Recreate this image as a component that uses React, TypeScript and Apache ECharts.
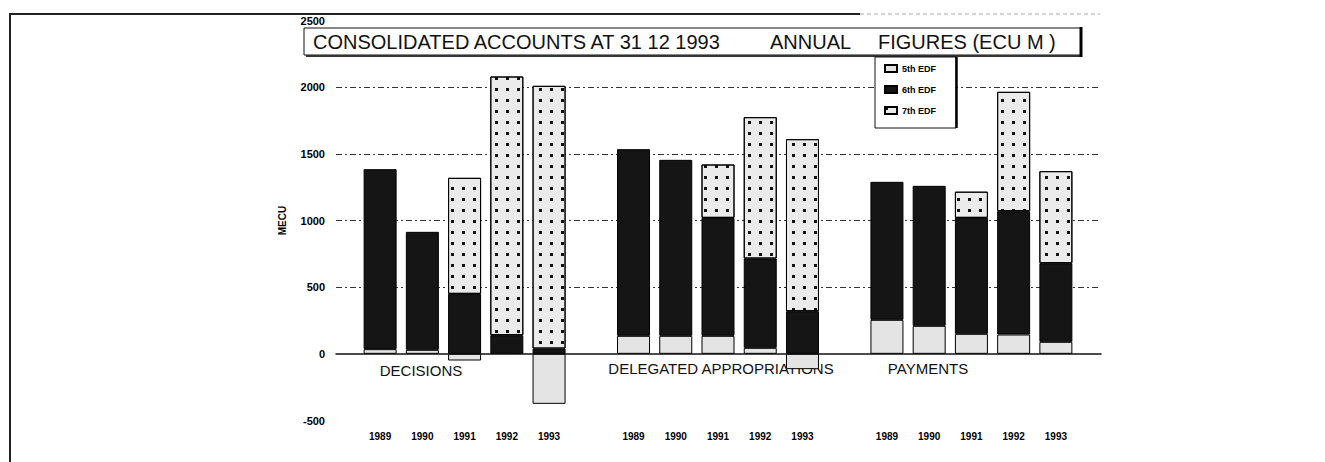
import React, { useEffect, useRef } from 'react';
import * as echarts from 'echarts';

const groups = ['DECISIONS', 'DELEGATED APPROPRIATIONS', 'PAYMENTS'];
const years = ['1989', '1990', '1991', '1992', '1993'];
// values per group (DECISIONS, DELEGATED APPROPRIATIONS, PAYMENTS), years 1989..1993, MECU
const fifthEDF = [35, 30, -50, null, -375, 135, 135, 135, 45, -115, 255, 210, 150, 145, 90];
const sixthEDF = [1350, 885, 450, 140, 40, 1400, 1320, 885, 670, 320, 1035, 1050, 870, 925, 590];
const seventhEDF = [null, null, 870, 1940, 1970, null, null, 400, 1060, 1290, null, null, 196, 895, 690];
const legendNames = ['5th EDF', '6th EDF', '7th EDF'];
const titleParts = ['CONSOLIDATED ACCOUNTS AT 31 12 1993', 'ANNUAL', 'FIGURES (ECU M )'];
const yAxisName = 'MECU';

const categories: string[] = [];
groups.forEach((g, gi) => {
  if (gi > 0) categories.push('gap' + gi);
  years.forEach((y) => categories.push(g + '|' + y));
});

function toSlots(arr: (number | null)[]) {
  const out: (number | null)[] = [];
  groups.forEach((_g, gi) => {
    if (gi > 0) out.push(null);
    years.forEach((_y, yi) => out.push(arr[gi * 5 + yi]));
  });
  return out;
}

const FONT = '"Liberation Sans", Arial, sans-serif';

export default function App() {
  const ref = useRef<HTMLDivElement>(null);
  useEffect(() => {
    document.body.style.margin = '0';
    const chart = echarts.init(ref.current!, null, { renderer: 'svg' });
    const barBase = {
      type: 'bar',
      xAxisIndex: 1,
      yAxisIndex: 1,
      stack: 'edf',
      barWidth: 33,
    };
    const option: any = {
      animation: false,
      backgroundColor: '#ffffff',
      textStyle: { fontFamily: FONT },
      grid: [
        { left: 336, top: 20.5, width: 765, height: 400, outerBoundsMode: 'none' },
        { left: 359, top: 20.5, width: 718, height: 400, outerBoundsMode: 'none' },
      ],
      xAxis: [
        {
          gridIndex: 0,
          type: 'value',
          min: 0,
          max: 1,
          axisLabel: { show: false },
          axisTick: { show: false },
          splitLine: { show: false },
          axisLine: { show: true, onZero: true, lineStyle: { color: '#111', width: 1.5 } },
        },
        {
          gridIndex: 1,
          type: 'category',
          data: categories,
          axisLine: { show: false, onZero: false },
          axisTick: { show: false },
          splitLine: { show: false },
          axisLabel: {
            interval: 0,
            margin: 11,
            fontSize: 10,
            fontWeight: 'bold',
            color: '#000',
            fontFamily: FONT,
            formatter: (v: string) => (v.startsWith('gap') ? '' : v.split('|')[1]),
          },
        },
      ],
      yAxis: [
        {
          gridIndex: 0,
          type: 'value',
          min: -500,
          max: 2500,
          interval: 500,
          name: yAxisName,
          nameLocation: 'middle',
          nameGap: 49,
          nameRotate: 90,
          nameTextStyle: { fontSize: 10, fontWeight: 'bold', color: '#000', fontFamily: FONT },
          axisLine: { show: false },
          axisTick: { show: false },
          axisLabel: {
            margin: 11,
            fontSize: 11,
            fontWeight: 'bold',
            color: '#000',
            fontFamily: FONT,
            formatter: (v: number) => String(v),
          },
          splitLine: {
            show: true,
            lineStyle: {
              color: ['rgba(0,0,0,0)', 'rgba(0,0,0,0)', '#333', '#333', '#333', '#333', 'rgba(0,0,0,0)'],
              type: [6, 3, 2, 3],
              width: 1,
            },
          },
        },
        { gridIndex: 1, type: 'value', min: -500, max: 2500, interval: 500, show: false, splitLine: { show: false } },
      ],
      legend: {
        orient: 'vertical',
        left: 884,
        top: 64,
        itemWidth: 12,
        itemHeight: 7,
        itemGap: 12,
        icon: 'rect',
        padding: 0,
        data: legendNames,
        textStyle: { fontSize: 9, fontWeight: 'bold', color: '#000', fontFamily: FONT },
      },
      series: [
        {
          ...barBase,
          name: legendNames[0],
          data: toSlots(fifthEDF),
          itemStyle: { color: '#e4e4e4', borderColor: '#000', borderWidth: 1 },
        },
        {
          ...barBase,
          name: legendNames[1],
          data: toSlots(sixthEDF),
          itemStyle: { color: '#151515', borderColor: '#000', borderWidth: 1 },
        },
        {
          ...barBase,
          name: legendNames[2],
          data: toSlots(seventhEDF),
          itemStyle: {
            color: '#ebebeb',
            borderColor: '#000',
            borderWidth: 1,
            decal: {
              symbol: 'rect',
              symbolSize: 1,
              color: '#111',
              dashArrayX: [2.5, 8],
              dashArrayY: [2.5, 8],
            },
          },
        },
      ],
      graphic: [
        { type: 'line', z: 1, shape: { x1: 9, y1: 14, x2: 860, y2: 14 }, style: { stroke: '#222', lineWidth: 2 } },
        { type: 'line', z: 1, shape: { x1: 860, y1: 14, x2: 1100, y2: 14 }, style: { stroke: '#aaa', lineWidth: 1, lineDash: [4, 3] } },
        { type: 'line', z: 1, shape: { x1: 10, y1: 14, x2: 10, y2: 462 }, style: { stroke: '#222', lineWidth: 2 } },
        { type: 'rect', z: 1, shape: { x: 304, y: 28, width: 777, height: 27 }, style: { fill: '#fff', stroke: '#111', lineWidth: 1 } },
        { type: 'line', z: 1, shape: { x1: 306, y1: 56, x2: 1082, y2: 56 }, style: { stroke: '#333', lineWidth: 2 } },
        { type: 'line', z: 1, shape: { x1: 1081, y1: 27, x2: 1081, y2: 57 }, style: { stroke: '#000', lineWidth: 3 } },
        {
          type: 'text', z: 2,
          style: { text: titleParts[0], x: 313, y: 42, font: '20px ' + FONT, fill: '#111', textAlign: 'left', textVerticalAlign: 'middle', align: 'left', verticalAlign: 'middle' },
        },
        {
          type: 'text', z: 2,
          style: { text: titleParts[1], x: 770, y: 42, font: '20px ' + FONT, fill: '#111', textAlign: 'left', textVerticalAlign: 'middle', align: 'left', verticalAlign: 'middle' },
        },
        {
          type: 'text', z: 2,
          style: { text: titleParts[2], x: 878, y: 42, font: '20px ' + FONT, fill: '#111', textAlign: 'left', textVerticalAlign: 'middle', align: 'left', verticalAlign: 'middle' },
        },
        { type: 'rect', z: 1, shape: { x: 875, y: 57, width: 81, height: 71 }, style: { fill: '#fff', stroke: '#111', lineWidth: 1 } },
        { type: 'line', z: 1, shape: { x1: 956.5, y1: 57, x2: 956.5, y2: 128 }, style: { stroke: '#000', lineWidth: 2.5 } },
        {
          type: 'text', z: 2,
          style: { text: groups[0], x: 421, y: 370, font: '15px ' + FONT, fill: '#111', textAlign: 'center', textVerticalAlign: 'middle', align: 'center', verticalAlign: 'middle' },
        },
        {
          type: 'text', z: 2,
          style: { text: groups[1], x: 721, y: 368, font: '15px ' + FONT, fill: '#111', textAlign: 'center', textVerticalAlign: 'middle', align: 'center', verticalAlign: 'middle' },
        },
        {
          type: 'text', z: 2,
          style: { text: groups[2], x: 928, y: 368, font: '15px ' + FONT, fill: '#111', textAlign: 'center', textVerticalAlign: 'middle', align: 'center', verticalAlign: 'middle' },
        },
      ],
    };
    chart.setOption(option);
    return () => chart.dispose();
  }, []);
  return <div ref={ref} style={{ width: 1325, height: 462 }} />;
}
